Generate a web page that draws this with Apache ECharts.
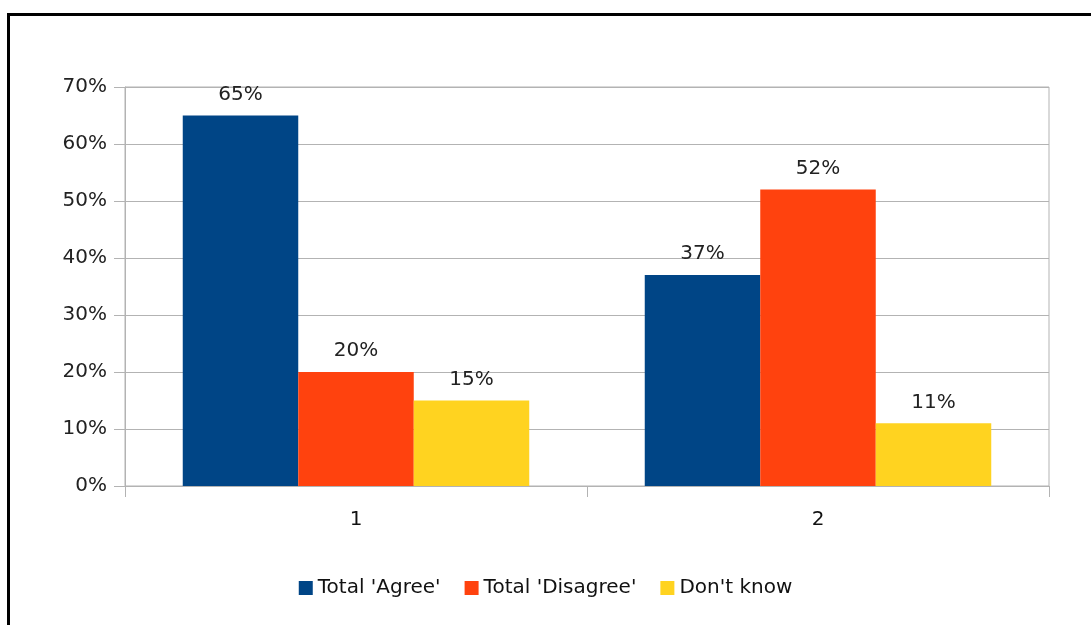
<!DOCTYPE html>
<html>
<head>
<meta charset="utf-8">
<script src="https://cdn.jsdelivr.net/npm/echarts@6/dist/echarts.min.js"></script>
<style>
  html, body { margin: 0; padding: 0; background: #fff; }
  #main { width: 1091px; height: 625px; }
</style>
</head>
<body>
<div id="main"></div>
<script>
  // categories and series (percent)
  var categories = ["1", "2"];
  var agree = [65, 37];
  var disagree = [20, 52];
  var dontKnow = [15, 11];
  var seriesNames = ["Total 'Agree'", "Total 'Disagree'", "Don't know"];
  var colors = ["#004586", "#ff420e", "#ffd320"];

  var font = "DejaVu Sans, Verdana, sans-serif";

  var myChart = echarts.init(document.getElementById("main"));

  function barSeries(name, data, color) {
    return {
      name: name,
      type: "bar",
      data: data,
      barGap: "0%",
      barCategoryGap: "25%",
      itemStyle: { color: color },
      label: {
        show: true,
        position: "top",
        distance: 11,
        formatter: "{c}%",
        color: "#222",
        fontFamily: font,
        fontSize: 20
      }
    };
  }

  var option = {
    backgroundColor: "#fff",
    animation: false,
    // black frame (left and top edges only)
    graphic: [
      { type: "rect", shape: { x: 7, y: 13, width: 1090, height: 3 }, style: { fill: "#000" } },
      { type: "rect", shape: { x: 7, y: 13, width: 3, height: 620 }, style: { fill: "#000" } }
    ],
    grid: {
      left: 125,
      right: 42,
      top: 87,
      bottom: 139,
      show: true,
      borderColor: "#b3b3b3",
      borderWidth: 1
    },
    legend: {
      bottom: 22,
      left: "center",
      icon: "rect",
      itemWidth: 14,
      itemHeight: 14,
      itemGap: 24,
      textStyle: { fontFamily: font, fontSize: 20, color: "#111" },
      data: seriesNames
    },
    xAxis: {
      type: "category",
      data: categories,
      axisLine: { lineStyle: { color: "#b3b3b3" } },
      axisTick: { show: true, length: 11, lineStyle: { color: "#b3b3b3" } },
      axisLabel: { margin: 24, color: "#111", fontFamily: font, fontSize: 20 }
    },
    yAxis: {
      type: "value",
      min: 0,
      max: 70,
      interval: 10,
      axisLine: { show: true, lineStyle: { color: "#b3b3b3" } },
      axisTick: { show: true, length: 11, lineStyle: { color: "#b3b3b3" } },
      axisLabel: { formatter: "{value}%", margin: 18, color: "#222", fontFamily: font, fontSize: 20 },
      splitLine: { lineStyle: { color: "#b3b3b3" } }
    },
    series: [
      barSeries(seriesNames[0], agree, colors[0]),
      barSeries(seriesNames[1], disagree, colors[1]),
      barSeries(seriesNames[2], dontKnow, colors[2])
    ]
  };

  myChart.setOption(option);
</script>
</body>
</html>
